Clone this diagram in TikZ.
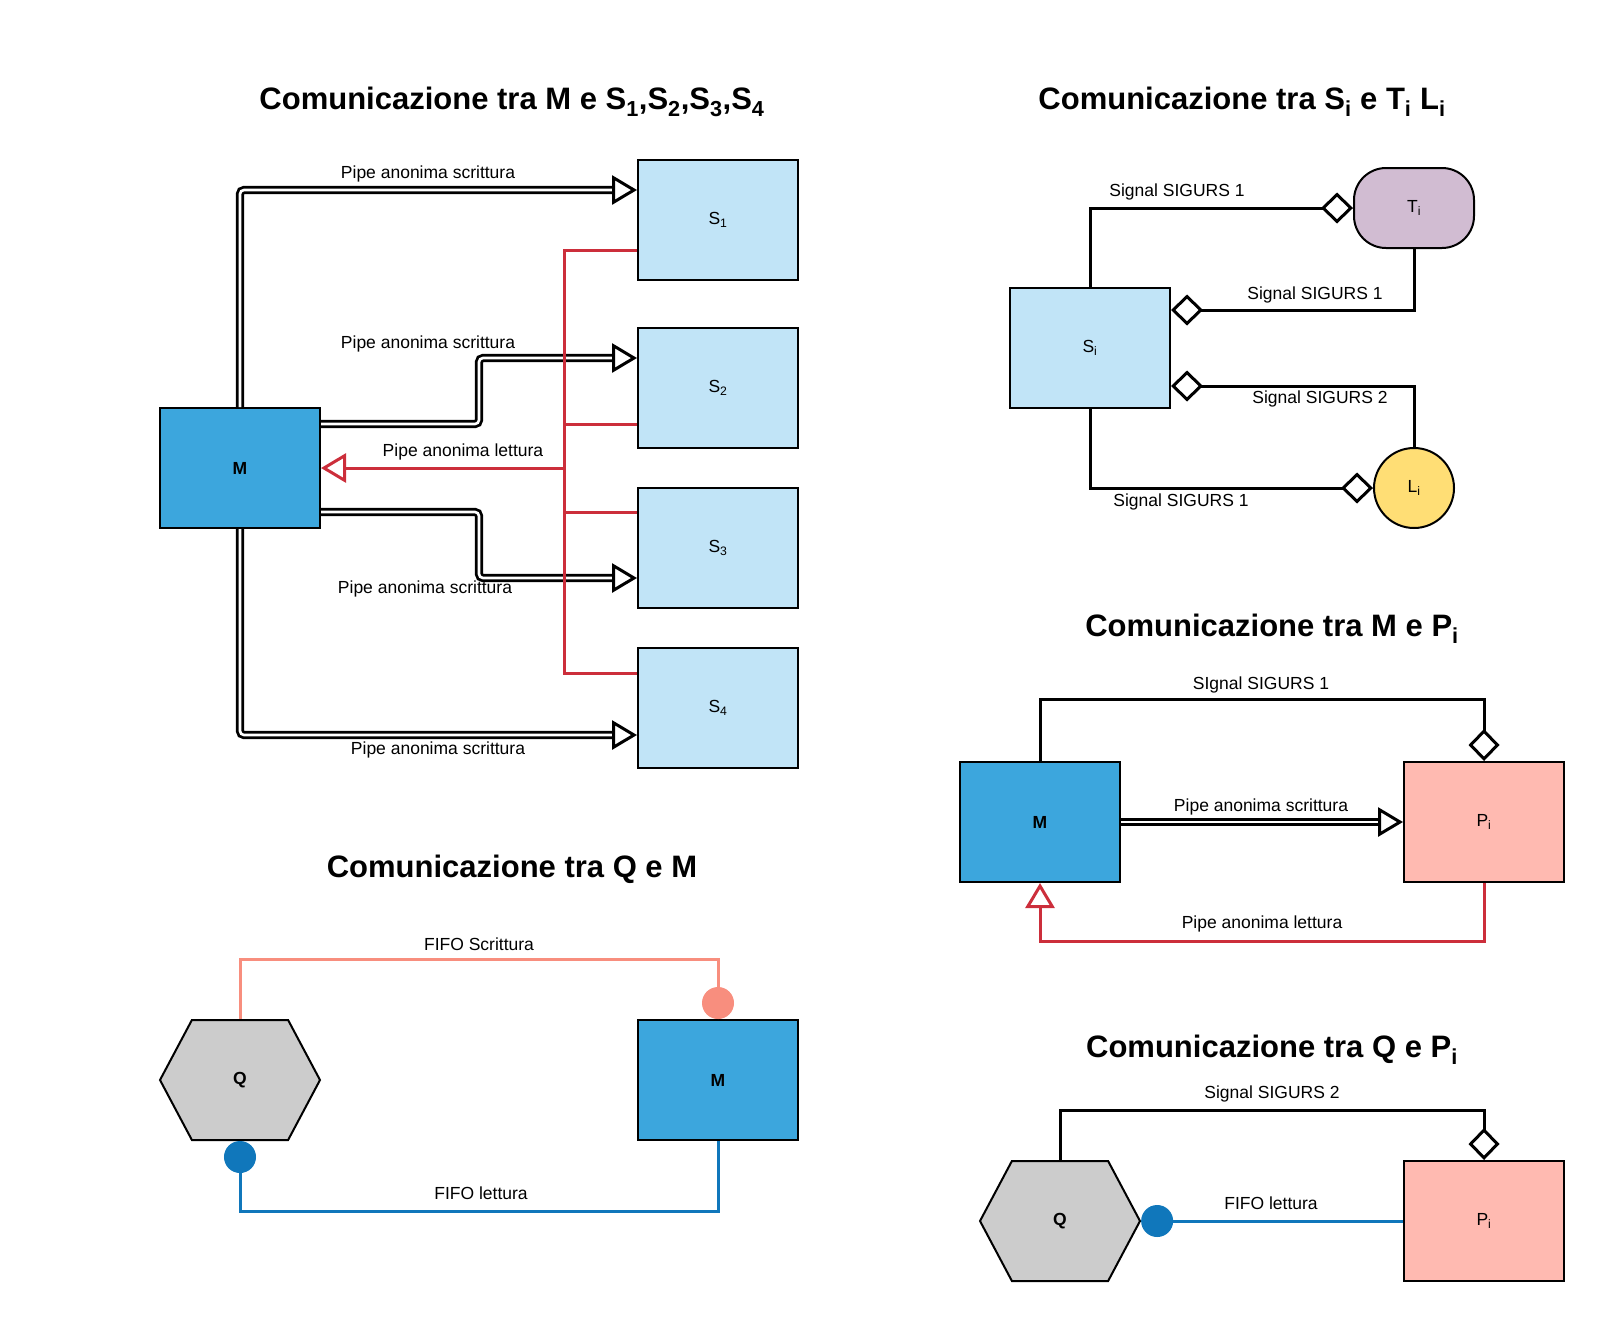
\documentclass[tikz,border=0pt]{standalone}
\usepackage{fontspec}
\setmainfont{Liberation Sans}
\usetikzlibrary{arrows.meta,shapes.symbols}

\definecolor{azzurro}{HTML}{C1E4F7}
\definecolor{blum}{HTML}{3CA6DD}
\definecolor{rosso}{HTML}{CC2E3B}
\definecolor{lilla}{HTML}{D1BCD2}
\definecolor{giallo}{HTML}{FFDE75}
\definecolor{rosa}{HTML}{FFBAB1}
\definecolor{salmone}{HTML}{F88E7E}
\definecolor{bluf}{HTML}{1077BB}
\definecolor{grigio}{HTML}{CCCCCC}

\newcommand\fonteti{\fontsize{17.5}{21}\selectfont}

\tikzset{
  box/.style={draw, line width=2pt, minimum width=160pt, minimum height=120pt, inner sep=0pt},
  sbox/.style={box, fill=azzurro},
  mbox/.style={box, fill=blum, font=\fonteti\bfseries},
  pbox/.style={box, fill=rosa},
  qhex/.style={signal, signal to=west and east, signal pointer angle=124, draw, line width=2pt,
    fill=grigio, minimum width=160pt, minimum height=120pt, inner sep=0pt, font=\fonteti\bfseries},
  titolo/.style={font=\fontsize{31}{37}\selectfont\bfseries},
  etic/.style={inner sep=1pt},
  pipe/.style={double, line width=2.8pt, double distance=2.6pt, rounded corners=4pt,
    -{Triangle[open, length=25pt, width=29pt, line width=3pt]}},
  sig/.style={line width=3pt, -{Diamond[open, length=32pt, width=31pt, line width=3pt]}},
  lett/.style={draw=rosso, line width=3pt},
  lettf/.style={lett, -{Triangle[open, length=25pt, width=29pt, line width=3pt]}},
  fifo/.style={line width=3pt, -{Circle[length=32pt]}}
}

\begin{document}
\begin{tikzpicture}[x=1pt, y=-1pt, font=\fonteti]
    \useasboundingbox (0,0) rectangle (1605,1320);
    % Comunicazione tra M e S
    \node[titolo] (t1) at (512,102) {Comunicazione tra M e S\textsubscript{1},S\textsubscript{2},S\textsubscript{3},S\textsubscript{4}};
    \node[mbox] (M) at (240,468) {M};
    \node[sbox] (S1) at (718,220) {S\textsubscript{1}};
    \node[sbox] (S2) at (718,388) {S\textsubscript{2}};
    \node[sbox] (S3) at (718,548) {S\textsubscript{3}};
    \node[sbox] (S4) at (718,708) {S\textsubscript{4}};
    \draw[pipe] (M.north) |- ([yshift=30pt]S1.west);
    \draw[pipe] ([yshift=44pt]M.east) -- ++(158,0) |- ([yshift=30pt]S2.west);
    \draw[pipe] ([yshift=-44pt]M.east) -- ++(158,0) |- ([yshift=-30pt]S3.west);
    \draw[pipe] (M.south) |- ([yshift=-27pt]S4.west);
    \coordinate (rj) at (564,468);
    \draw[lett] ([yshift=-30pt]S1.west) -| (rj);
    \draw[lett] ([yshift=-36pt]S2.west) -| (rj);
    \draw[lett] ([yshift=36pt]S3.west) -| (rj);
    \draw[lett] ([yshift=35pt]S4.west) -| (rj);
    \draw[lettf] (rj) -- (M.east);
    \node[etic] (e1) at (428,174) {Pipe anonima scrittura};
    \node[etic] (e2) at (428,344) {Pipe anonima scrittura};
    \node[etic] (e3) at (463,452) {Pipe anonima lettura};
    \node[etic] (e4) at (425,589) {Pipe anonima scrittura};
    \node[etic] (e5) at (438,750) {Pipe anonima scrittura};
    % Comunicazione tra S e T, L
    \node[titolo] (t2) at (1242,102) {Comunicazione tra S\textsubscript{i} e T\textsubscript{i} L\textsubscript{i}};
    \node[sbox] (Si) at (1090,348) {S\textsubscript{i}};
    \node[draw, line width=2pt, fill=lilla, minimum width=120pt, minimum height=80pt,
      rounded corners=32pt] (Ti) at (1414,208) {T\textsubscript{i}};
    \node[circle, draw, line width=2pt, fill=giallo, minimum size=80pt, inner sep=0pt] (Li) at (1414,488) {L\textsubscript{i}};
    \draw[sig] (Si.north) |- (Ti.west);
    \draw[sig] (Ti.south) |- ([yshift=38pt]Si.east);
    \draw[sig] (Li.north) |- ([yshift=-38pt]Si.east);
    \draw[sig] (Si.south) |- (Li.west);
    \node[etic] (e6) at (1177,192) {Signal SIGURS 1};
    \node[etic] (e7) at (1315,295) {Signal SIGURS 1};
    \node[etic] (e8) at (1320,399) {Signal SIGURS 2};
    \node[etic] (e9) at (1181,502) {Signal SIGURS 1};
    % Comunicazione tra M e P
    \node[titolo] (t3) at (1272,629) {Comunicazione tra M e P\textsubscript{i}};
    \node[mbox] (M3) at (1040,822) {M};
    \node[pbox] (P3) at (1484,822) {P\textsubscript{i}};
    \draw[sig] (M3.north) -- ++(0,-62) -| (P3.north);
    \draw[pipe] (M3.east) -- (P3.west);
    \draw[lettf] (P3.south) -- ++(0,58) -| (M3.south);
    \node[etic] (e10) at (1261,685) {SIgnal SIGURS 1};
    \node[etic] (e11) at (1261,807) {Pipe anonima scrittura};
    \node[etic] (e12) at (1262,924) {Pipe anonima lettura};
    % Comunicazione tra Q e M
    \node[titolo] (t4) at (512,869) {Comunicazione tra Q e M};
    \node[qhex] (Q4) at (240,1080) {Q};
    \node[mbox] (M4) at (718,1080) {M};
    \draw[fifo, salmone] (Q4.north) -- ++(0,-60) -| (M4.north);
    \draw[fifo, bluf] (M4.south) -- ++(0,70) -| (Q4.south);
    \node[etic] (e13) at (479,944) {FIFO Scrittura};
    \node[etic] (e14) at (481,1193) {FIFO lettura};
    % Comunicazione tra Q e P
    \node[titolo] (t5) at (1272,1050) {Comunicazione tra Q e P\textsubscript{i}};
    \node[qhex] (Q5) at (1060,1221) {Q};
    \node[pbox] (P5) at (1484,1221) {P\textsubscript{i}};
    \draw[sig] (Q5.north) -- ++(0,-50) -| (P5.north);
    \draw[fifo, bluf] (P5.west) -- (Q5.east);
    \node[etic] (e15) at (1272,1094) {Signal SIGURS 2};
    \node[etic] (e16) at (1271,1203) {FIFO lettura};
\end{tikzpicture}
\end{document}
